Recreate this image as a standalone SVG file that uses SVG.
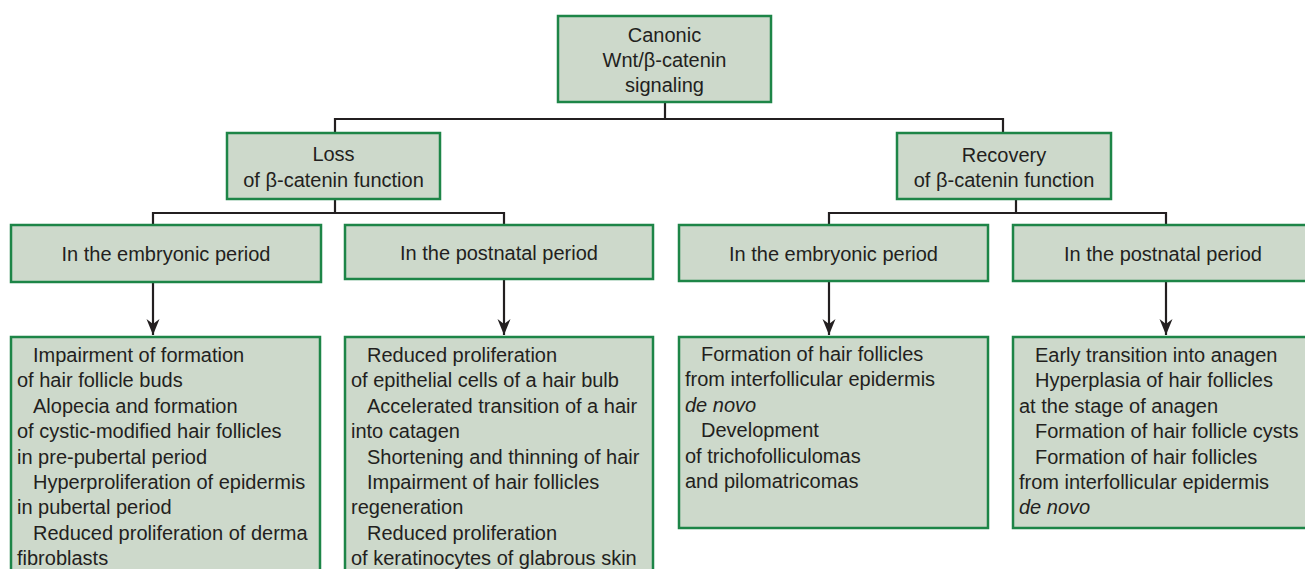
<svg xmlns="http://www.w3.org/2000/svg" width="1305" height="569" viewBox="0 0 1305 569">
<style>
.box{fill:#cdd9cb;stroke:#1d8547;stroke-width:2.5}
.t{font-family:"Liberation Sans",Arial,sans-serif;font-size:20px;fill:#231f20}
.c{text-anchor:middle}
.i{font-style:italic}
.ln{fill:none;stroke:#231f20;stroke-width:2.2}
</style>
<defs>
<marker id="ah" markerUnits="userSpaceOnUse" viewBox="-16 -7 17 14" markerWidth="17" markerHeight="14" refX="0" refY="0" orient="auto">
<path d="M0,0 L-16,-6.5 L-11,0 L-16,6.5 Z" fill="#231f20"/>
</marker>
</defs>
<rect width="1305" height="569" fill="#ffffff"/>
<g id="connectors">
<path class="ln" d="M665,102 V119 M335,133 V119 H1003 V133"/>
<path class="ln" d="M335,199 V213 M153,225 V213 H504 V225"/>
<path class="ln" d="M1016,199 V213 M829,225 V213 H1166 V225"/>
<path class="ln" d="M153,282 V335" marker-end="url(#ah)"/>
<path class="ln" d="M504,280 V335" marker-end="url(#ah)"/>
<path class="ln" d="M829,282 V335" marker-end="url(#ah)"/>
<path class="ln" d="M1166,282 V335" marker-end="url(#ah)"/>
</g>
<g id="root">
<rect class="box" x="558" y="16" width="213" height="86"/>
<text class="t c" x="664.5" y="42">Canonic</text>
<text class="t c" x="664.5" y="67">Wnt/β-catenin</text>
<text class="t c" x="664.5" y="92">signaling</text>
</g>
<g id="loss">
<rect class="box" x="227" y="133" width="213" height="66"/>
<text class="t c" x="333.5" y="161">Loss</text>
<text class="t c" x="333.5" y="187">of β-catenin function</text>
</g>
<g id="recovery">
<rect class="box" x="897" y="133" width="214" height="66"/>
<text class="t c" x="1004" y="162">Recovery</text>
<text class="t c" x="1004" y="187">of β-catenin function</text>
</g>
<g id="loss-embryonic">
<rect class="box" x="11" y="225" width="310" height="57"/>
<text class="t c" x="166" y="261">In the embryonic period</text>
</g>
<g id="loss-postnatal">
<rect class="box" x="345" y="225" width="308" height="54"/>
<text class="t c" x="499" y="260">In the postnatal period</text>
</g>
<g id="recovery-embryonic">
<rect class="box" x="679" y="225" width="309" height="56"/>
<text class="t c" x="833.5" y="261">In the embryonic period</text>
</g>
<g id="recovery-postnatal">
<rect class="box" x="1013" y="225" width="300" height="56"/>
<text class="t c" x="1163" y="261">In the postnatal period</text>
</g>
<g id="loss-embryonic-effects">
<rect class="box" x="11" y="337" width="309" height="250"/>
<text class="t" x="33" y="362">Impairment of formation</text>
<text class="t" x="17" y="387.4">of hair follicle buds</text>
<text class="t" x="33" y="412.8">Alopecia and formation</text>
<text class="t" x="17" y="438.2">of cystic-modified hair follicles</text>
<text class="t" x="17" y="463.6">in pre-pubertal period</text>
<text class="t" x="33" y="489">Hyperproliferation of epidermis</text>
<text class="t" x="17" y="514.4">in pubertal period</text>
<text class="t" x="33" y="539.8">Reduced proliferation of derma</text>
<text class="t" x="17" y="565.2">fibroblasts</text>
</g>
<g id="loss-postnatal-effects">
<rect class="box" x="345" y="337" width="308" height="250"/>
<text class="t" x="367" y="362">Reduced proliferation</text>
<text class="t" x="351" y="387.4">of epithelial cells of a hair bulb</text>
<text class="t" x="367" y="412.8">Accelerated transition of a hair</text>
<text class="t" x="351" y="438.2">into catagen</text>
<text class="t" x="367" y="463.6">Shortening and thinning of hair</text>
<text class="t" x="367" y="489">Impairment of hair follicles</text>
<text class="t" x="351" y="514.4">regeneration</text>
<text class="t" x="367" y="539.8">Reduced proliferation</text>
<text class="t" x="351" y="565.2">of keratinocytes of glabrous skin</text>
</g>
<g id="recovery-embryonic-effects">
<rect class="box" x="679" y="337" width="309" height="191"/>
<text class="t" x="701" y="361">Formation of hair follicles</text>
<text class="t" x="685" y="386.4">from interfollicular epidermis</text>
<text class="t i" x="685" y="411.8">de novo</text>
<text class="t" x="701" y="437.2">Development</text>
<text class="t" x="685" y="462.6">of trichofolliculomas</text>
<text class="t" x="685" y="488">and pilomatricomas</text>
</g>
<g id="recovery-postnatal-effects">
<rect class="box" x="1013" y="337" width="300" height="191"/>
<text class="t" x="1035" y="362">Early transition into anagen</text>
<text class="t" x="1035" y="387.4">Hyperplasia of hair follicles</text>
<text class="t" x="1019" y="412.8">at the stage of anagen</text>
<text class="t" x="1035" y="438.2">Formation of hair follicle cysts</text>
<text class="t" x="1035" y="463.6">Formation of hair follicles</text>
<text class="t" x="1019" y="489">from interfollicular epidermis</text>
<text class="t i" x="1019" y="514.4">de novo</text>
</g>
</svg>
